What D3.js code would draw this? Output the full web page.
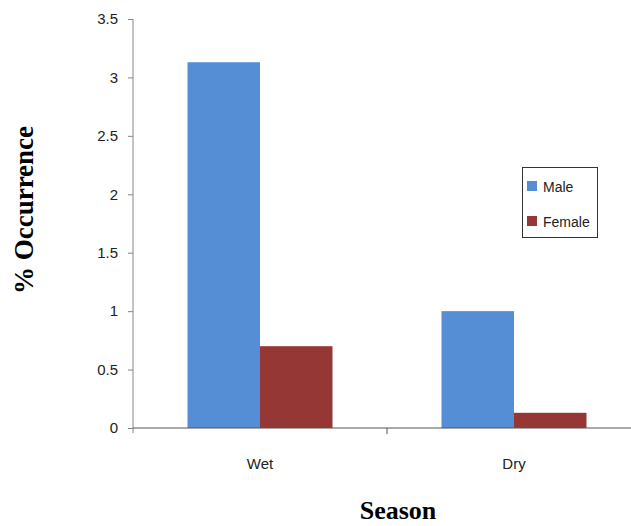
<!DOCTYPE html>
<html><head><meta charset="utf-8">
<script src="https://cdn.jsdelivr.net/npm/d3@7"></script>
<style>body{margin:0;background:#fff}</style>
</head><body>
<script>
const categories = ["Wet", "Dry"];
const seriesNames = ["Male", "Female"];
const maleValues = [3.13, 1.0];
const femaleValues = [0.70, 0.13];
const yTicks = [0, 0.5, 1, 1.5, 2, 2.5, 3, 3.5];
const colors = ["#558ED5", "#953735"];

const W = 631, H = 526;
const svg = d3.select("body").append("svg").attr("width", W).attr("height", H);

const x0 = d3.scaleBand().domain(categories).range([133, 641]).paddingInner(0).paddingOuter(0);
const x1 = d3.scaleBand().domain(seriesNames).range([54.5, 254 - 54.5]);
const y = d3.scaleLinear().domain([0, 3.5]).range([428, 19]);

const data = categories.map((c, i) => ({cat: c, vals: [maleValues[i], femaleValues[i]]}));

// bars
const g = svg.append("g");
data.forEach(d => {
  d.vals.forEach((v, j) => {
    g.append("rect")
      .attr("x", x0(d.cat) + x1(seriesNames[j]))
      .attr("y", y(v))
      .attr("width", x1.bandwidth())
      .attr("height", y(0) - y(v))
      .attr("fill", colors[j]);
  });
});

// y axis
const yAxis = svg.append("g").attr("transform", "translate(133,0)")
  .call(d3.axisLeft(y).tickValues(yTicks).tickSize(5).tickPadding(10).tickFormat(d3.format("")));
yAxis.select(".domain").attr("stroke", "#868686").attr("d", "M0,19V433");
yAxis.selectAll(".tick line").attr("stroke", "#868686");
yAxis.selectAll(".tick text").attr("font-family", "Liberation Sans, Arial, sans-serif").attr("font-size", 15).attr("fill", "#222");

// x axis
const xAxis = svg.append("g").attr("transform", "translate(0,428)")
  .call(d3.axisBottom(x0).tickSize(0).tickPadding(30));
xAxis.select(".domain").attr("stroke", "#555").attr("d", "M133,0H641");
xAxis.selectAll(".tick text").attr("font-family", "Liberation Sans, Arial, sans-serif").attr("font-size", 15).attr("fill", "#222");
// category boundary ticks
svg.append("g").selectAll("line").data(categories).join("line")
  .attr("x1", d => x0(d) + x0.bandwidth()).attr("x2", d => x0(d) + x0.bandwidth())
  .attr("y1", 428).attr("y2", 434).attr("stroke", "#555");

// axis titles
svg.append("text").attr("x", 398).attr("y", 519).attr("text-anchor", "middle")
  .attr("font-family", "Liberation Serif, Times New Roman, serif").attr("font-weight", "bold").attr("font-size", 26)
  .text("Season");
svg.append("text").attr("transform", "translate(33,210) rotate(-90)").attr("text-anchor", "middle")
  .attr("font-family", "Liberation Serif, Times New Roman, serif").attr("font-weight", "bold").attr("font-size", 27)
  .text("% Occurrence");

// legend
const lg = svg.append("g");
lg.append("rect").attr("x", 522.5).attr("y", 167.5).attr("width", 75).attr("height", 70)
  .attr("fill", "#fff").attr("stroke", "#333");
seriesNames.forEach((s, i) => {
  lg.append("rect").attr("x", 527).attr("y", 181 + i * 35).attr("width", 10).attr("height", 10).attr("fill", colors[i]);
  lg.append("text").attr("x", 543).attr("y", 192 + i * 35)
    .attr("font-family", "Liberation Sans, Arial, sans-serif").attr("font-size", 14).attr("fill", "#222").text(s);
});
</script>
</body></html>
